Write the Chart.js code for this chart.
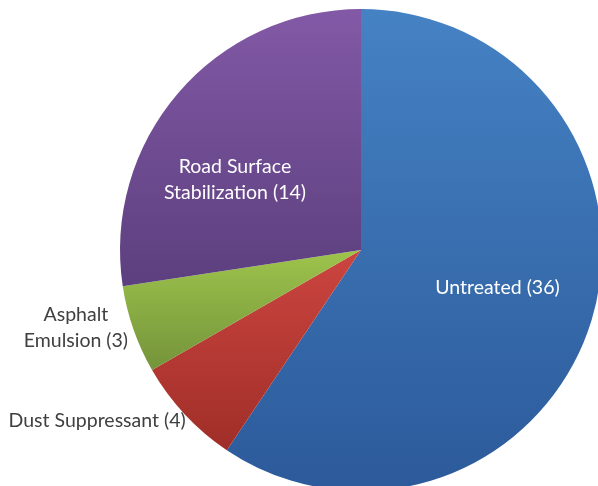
<!DOCTYPE html>
<html>
<head>
<meta charset="utf-8">
<script src="https://cdn.jsdelivr.net/npm/chart.js@4"></script>
<style>
  html, body { margin: 0; padding: 0; background: #fff; }
  #wrap { width: 598px; height: 486px; overflow: hidden; position: relative; }
  #box { position: absolute; left: 0; top: 0; width: 610px; height: 500px; }
</style>
</head>
<body>
<div id="wrap"><div id="box"><canvas id="pie"></canvas></div></div>
<script>
// slice names and the counts printed in their labels
const categories = ['Untreated', 'Dust Suppressant', 'Asphalt Emulsion', 'Road Surface Stabilization'];
const counts = [36, 4, 3, 14];
// share of the pie (percent) as measured from the slice angles
const shares = [59.4, 7.3, 5.9, 27.4];
// label text lines
const labelLines = [
    ['Untreated (36)'],
    ['Dust Suppressant (4)'],
    ['Asphalt', 'Emulsion (3)'],
    ['Road Surface', 'Stabilization (14)']
];

const topColors = ['#4582C4', '#CC4540', '#9EC44C', '#8259A6'];
const bottomColors = ['#2C5A9A', '#A02E28', '#74933A', '#5C3F7E'];
const labelColors = ['#FFFFFF', '#404040', '#404040', '#FFFFFF'];
// label centre, in units of the radius, relative to the pie centre
const labelOffsets = [[0.566, 0.158], [-1.095, 0.71], [-1.183, 0.324], [-0.523, -0.29]];

function sliceGradient(ctx) {
    const chart = ctx.chart;
    const area = chart.chartArea;
    if (!area) return topColors[ctx.dataIndex];
    const cx = (area.left + area.right) / 2;
    const cy = (area.top + area.bottom) / 2;
    const r = Math.min(area.right - area.left, area.bottom - area.top) / 2;
    const total = shares.reduce((s, v) => s + v, 0);
    let a0 = -Math.PI / 2;
    for (let i = 0; i < ctx.dataIndex; i++) a0 += shares[i] / total * Math.PI * 2;
    const a1 = a0 + shares[ctx.dataIndex] / total * Math.PI * 2;
    const ys = [cy, cy + r * Math.sin(a0), cy + r * Math.sin(a1)];
    [Math.PI / 2, Math.PI * 1.5, -Math.PI / 2].forEach(a => {
        if (a > a0 && a < a1) ys.push(cy + r * Math.sin(a));
    });
    const y0 = Math.min(...ys), y1 = Math.max(...ys);
    const g = chart.ctx.createLinearGradient(0, y0, 0, y1);
    g.addColorStop(0, topColors[ctx.dataIndex]);
    g.addColorStop(1, bottomColors[ctx.dataIndex]);
    return g;
}

const sliceLabels = {
    id: 'sliceLabels',
    afterDatasetsDraw(chart) {
        const meta = chart.getDatasetMeta(0);
        const c = chart.ctx;
        c.save();
        c.font = '19.5px Lato, "Open Sans", sans-serif';
        c.textAlign = 'center';
        c.textBaseline = 'middle';
        meta.data.forEach((arc, i) => {
            const lines = labelLines[i];
            const x = arc.x + labelOffsets[i][0] * arc.outerRadius;
            const y = arc.y + labelOffsets[i][1] * arc.outerRadius;
            const lh = 26;
            c.fillStyle = labelColors[i];
            lines.forEach((t, k) => {
                c.fillText(t, x, y + (k - (lines.length - 1) / 2) * lh);
            });
        });
        c.restore();
    }
};

new Chart(document.getElementById('pie'), {
    type: 'pie',
    data: {
        labels: categories.map((c, i) => c + ' (' + counts[i] + ')'),
        datasets: [{
            data: shares,
            backgroundColor: sliceGradient,
            borderWidth: 0
        }]
    },
    options: {
        responsive: true,
        maintainAspectRatio: false,
        animation: false,
        layout: { padding: { left: 120, right: 8, top: 9, bottom: 9 } },
        plugins: {
            legend: { display: false },
            tooltip: { enabled: false }
        }
    },
    plugins: [sliceLabels]
});
</script>
</body>
</html>
